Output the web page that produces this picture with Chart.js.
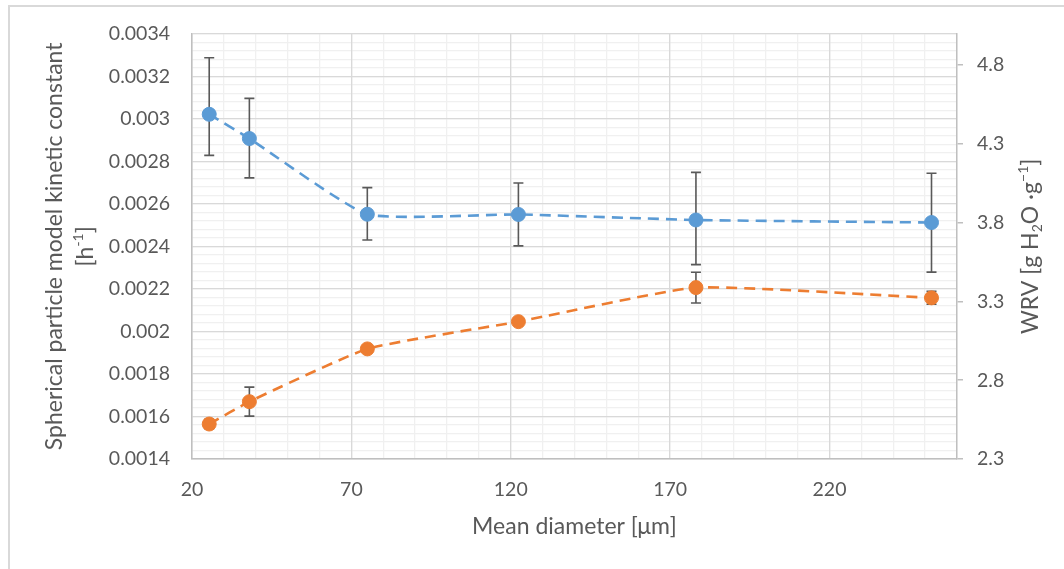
<!DOCTYPE html>
<html>
<head>
<meta charset="utf-8">
<script src="https://cdn.jsdelivr.net/npm/chart.js@4.4.1/dist/chart.umd.min.js"></script>
<style>
  body { margin: 0; background: #fff; }
  #wrap { position: relative; width: 1064px; height: 569px; overflow: hidden; }
  #frame { position: absolute; left: 8px; top: 5px; width: 1100px; height: 600px;
           border-left: 2px solid #d9d9d9; border-top: 2px solid #d9d9d9; }
  canvas { position: absolute; left: 0; top: 0; }
</style>
</head>
<body>
<div id="wrap">
  <div id="frame"></div>
  <canvas id="myChart" width="1064" height="569"></canvas>
</div>
<script>
// diametri medi (asse x)
const diameters = [25.4, 38, 75, 122.4, 178.1, 252];
// costante cinetica (asse sinistro) con barre di errore
const kineticK = [0.003021, 0.002907, 0.002551, 0.00255, 0.002524, 0.002512];
const kineticErrPlus = [0.000266, 0.000189, 0.000125, 0.000148, 0.000224, 0.000232];
const kineticErrMinus = [0.000193, 0.000185, 0.000121, 0.000148, 0.00021, 0.000233];
// WRV (asse destro) con barre di errore
const wrv = [2.522, 2.664, 2.999, 3.172, 3.388, 3.323];
const wrvErr = [0.03, 0.092, 0.02, 0.02, 0.098, 0.041];
// etichette degli assi
const xTicks = [20, 70, 120, 170, 220];
const leftTicks = [0.0014, 0.0016, 0.0018, 0.002, 0.0022, 0.0024, 0.0026, 0.0028, 0.003, 0.0032, 0.0034];
const rightTicks = [2.3, 2.8, 3.3, 3.8, 4.3, 4.8];

const textColor = '#595959';
const fontName = 'Lato';

// griglia secondaria
function minorTicks(min, max, step) {
  let t = [];
  let n = Math.round((max - min) / step);
  for (let i = 0; i <= n; i++) t.push({ value: min + i * step });
  return t;
}

// barre di errore disegnate con le scale del grafico
const errorBars = {
  id: 'errorBars',
  beforeDatasetsDraw(chart) {
    const c = chart.ctx;
    const x = chart.scales.x;
    const sets = [
      { vals: kineticK, plus: kineticErrPlus, minus: kineticErrMinus, s: chart.scales.y },
      { vals: wrv, plus: wrvErr, minus: wrvErr, s: chart.scales.y2 }
    ];
    c.save();
    c.strokeStyle = '#595959';
    c.lineWidth = 1.6;
    sets.forEach(set => {
      for (let i = 0; i < diameters.length; i++) {
        let px = x.getPixelForValue(diameters[i]);
        let top = set.s.getPixelForValue(set.vals[i] + set.plus[i]);
        let bot = set.s.getPixelForValue(set.vals[i] - set.minus[i]);
        c.beginPath();
        c.moveTo(px, top); c.lineTo(px, bot);
        c.moveTo(px - 5, top); c.lineTo(px + 5, top);
        c.moveTo(px - 5, bot); c.lineTo(px + 5, bot);
        c.stroke();
      }
    });
    c.restore();
  }
};

// testo con apici e pedici
function richText(c, parts, cx, cy, size) {
  const big = size + 'px ' + fontName;
  const small = Math.round(size * 0.62) + 'px ' + fontName;
  let w = 0;
  parts.forEach(p => { c.font = p.s ? small : big; w += c.measureText(p.t).width; });
  let xx = cx - w / 2;
  c.textBaseline = 'middle';
  c.textAlign = 'left';
  parts.forEach(p => {
    c.font = p.s ? small : big;
    let dy = p.s === 'sup' ? -size * 0.33 : (p.s === 'sub' ? size * 0.28 : 0);
    c.fillText(p.t, xx, cy + dy);
    xx += c.measureText(p.t).width;
  });
}

const axisTitles = {
  id: 'axisTitles',
  afterDraw(chart) {
    const c = chart.ctx;
    const a = chart.chartArea;
    const midY = (a.top + a.bottom) / 2;
    c.save();
    c.fillStyle = textColor;
    // titolo asse x
    richText(c, [{ t: 'Mean diameter [μm]' }], (a.left + a.right) / 2, a.bottom + 68, 23);
    // titolo asse sinistro
    c.save();
    c.translate(a.left - 137, midY);
    c.rotate(-Math.PI / 2);
    richText(c, [{ t: 'Spherical particle model kinetic constant' }], 0, 0, 23);
    c.restore();
    c.save();
    c.translate(a.left - 106, midY);
    c.rotate(-Math.PI / 2);
    richText(c, [{ t: '[h' }, { t: '-1', s: 'sup' }, { t: ']' }], 0, 0, 23);
    c.restore();
    // titolo asse destro
    c.save();
    c.translate(a.right + 74, midY);
    c.rotate(-Math.PI / 2);
    richText(c, [{ t: 'WRV [g H' }, { t: '2', s: 'sub' }, { t: 'O ·g' }, { t: '−1', s: 'sup' }, { t: ']' }], 0, 0, 23);
    c.restore();
    c.restore();
  }
};

const tickFont = { family: fontName, size: 19.5 };

new Chart(document.getElementById('myChart'), {
  type: 'scatter',
  data: {
    datasets: [{
      label: 'k',
      data: diameters.map((d, i) => ({ x: d, y: kineticK[i] })),
      xAxisID: 'x',
      yAxisID: 'y',
      showLine: true,
      borderColor: '#5B9BD5',
      backgroundColor: '#5B9BD5',
      borderWidth: 2.6,
      borderDash: [11, 7],
      tension: 0.15,
      pointRadius: 7,
      pointBorderWidth: 1
    }, {
      label: 'WRV',
      data: diameters.map((d, i) => ({ x: d, y: wrv[i] })),
      xAxisID: 'x',
      yAxisID: 'y2',
      showLine: true,
      borderColor: '#ED7D31',
      backgroundColor: '#ED7D31',
      borderWidth: 2.6,
      borderDash: [11, 7],
      tension: 0.15,
      pointRadius: 7,
      pointBorderWidth: 1
    }]
  },
  options: {
    responsive: false,
    animation: false,
    layout: { padding: { top: 33, left: 0, right: 0, bottom: 0 } },
    plugins: { legend: { display: false }, tooltip: { enabled: false } },
    scales: {
      x: {
        type: 'linear', position: 'bottom', min: 20, max: 260,
        afterBuildTicks: s => { s.ticks = xTicks.map(v => ({ value: v })); },
        afterFit: s => { s.height = 110; },
        grid: { color: '#d9d9d9', lineWidth: 1.3, drawTicks: false },
        border: { color: '#bfbfbf', width: 1.5 },
        ticks: { color: textColor, font: tickFont, padding: 19, callback: v => String(v) }
      },
      xMinor: {
        type: 'linear', position: 'bottom', min: 20, max: 260,
        afterBuildTicks: s => { s.ticks = minorTicks(20, 260, 10); },
        afterFit: s => { s.height = 0; },
        grid: { color: '#f0f0f0', lineWidth: 1.3, drawTicks: false, z: -2 },
        border: { display: false },
        ticks: { display: false }
      },
      y: {
        type: 'linear', position: 'left', min: 0.0014, max: 0.0034,
        afterBuildTicks: s => { s.ticks = leftTicks.map(v => ({ value: v })); },
        afterFit: s => { s.width = 192; },
        grid: { color: '#d9d9d9', lineWidth: 1.3, drawTicks: false },
        border: { color: '#bfbfbf', width: 1.5 },
        ticks: { color: textColor, font: tickFont, padding: 22, callback: v => String(parseFloat(v.toFixed(5))) }
      },
      yMinor: {
        type: 'linear', position: 'left', min: 0.0014, max: 0.0034,
        afterBuildTicks: s => { s.ticks = minorTicks(0.0014, 0.0034, 0.00004); },
        afterFit: s => { s.width = 0; },
        grid: { color: '#f0f0f0', lineWidth: 1.3, drawTicks: false, z: -2 },
        border: { display: false },
        ticks: { display: false }
      },
      y2: {
        type: 'linear', position: 'right', min: 2.3, max: 5.0,
        afterBuildTicks: s => { s.ticks = rightTicks.map(v => ({ value: v })); },
        afterFit: s => { s.width = 107; },
        grid: { drawOnChartArea: false, drawTicks: true, tickLength: 6, color: '#bfbfbf', lineWidth: 1.5 },
        border: { color: '#bfbfbf', width: 1.5 },
        ticks: { color: textColor, font: tickFont, padding: 14, callback: v => v.toFixed(1) }
      }
    }
  },
  plugins: [errorBars, axisTitles]
});
</script>
</body>
</html>
